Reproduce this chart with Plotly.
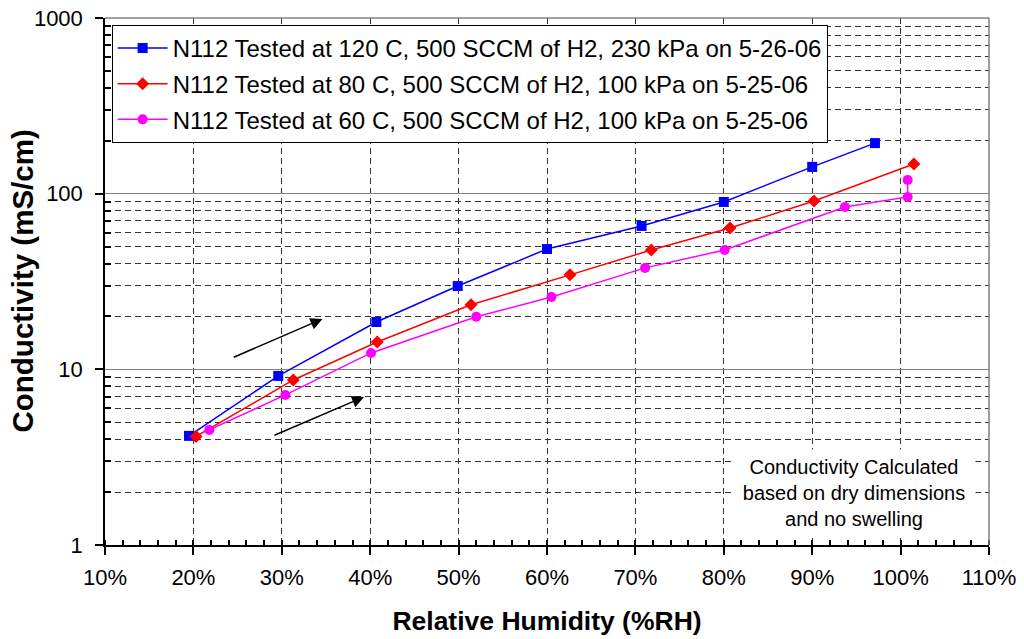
import plotly.graph_objects as go

# ---- data ----
rh_120 = [19.5, 29.6, 40.7, 49.9, 60.0, 70.7, 80.0, 90.0, 97.1]
cond_120 = [4.18, 9.17, 18.6, 29.8, 48.4, 65.5, 89.7, 142, 194]

rh_80 = [20.3, 31.3, 40.8, 51.4, 62.6, 71.8, 80.7, 90.2, 101.5]
cond_80 = [4.15, 8.7, 14.3, 23.3, 34.5, 47.8, 63.8, 90.8, 147.6]

rh_60 = [21.8, 30.4, 40.1, 52.0, 60.5, 71.1, 80.1, 93.7, 100.8, 100.8]
cond_60 = [4.52, 7.15, 12.4, 19.9, 25.8, 37.8, 47.8, 84.0, 95.8, 119.7]

names = [
    "N112 Tested at 120 C, 500 SCCM of H2, 230 kPa on 5-26-06",
    "N112 Tested at 80 C, 500 SCCM of H2, 100 kPa on 5-25-06",
    "N112 Tested at 60 C, 500 SCCM of H2, 100 kPa on 5-25-06",
]
x_ticks = [10, 20, 30, 40, 50, 60, 70, 80, 90, 100, 110]
x_labels = [f"{v}%" for v in x_ticks]
y_ticks = [1, 10, 100, 1000]
y_minor = [d * m for m in (1, 10, 100) for d in range(2, 10)]

FONT = "Liberation Sans, Arial, sans-serif"

fig = go.Figure()
fig.add_trace(go.Scatter(x=rh_120, y=cond_120, name=names[0], mode="lines+markers",
                         line=dict(color="#0000FF", width=1.5), legendgroup="a",
                         marker=dict(symbol="square", size=10, color="#0000FF")))
fig.add_trace(go.Scatter(x=rh_80, y=cond_80, name=names[1], mode="lines+markers",
                         line=dict(color="#FF0000", width=1.5), legendgroup="b",
                         marker=dict(symbol="diamond", size=10, color="#FF0000")))
fig.add_trace(go.Scatter(x=rh_60, y=cond_60, name=names[2], mode="lines+markers",
                         line=dict(color="#FF00FF", width=1.5), legendgroup="c",
                         marker=dict(symbol="circle", size=10, color="#FF00FF")))

fig.update_layout(
    width=1024, height=639,
    margin=dict(l=105, r=35, t=18, b=94),
    plot_bgcolor="white", paper_bgcolor="white",
    font=dict(family=FONT, size=22, color="black"),
    showlegend=True,
    legend=dict(x=0.0075, y=0.987, xanchor="left", yanchor="top",
                bgcolor="white", bordercolor="black", borderwidth=1,
                font=dict(size=24), traceorder="grouped", tracegroupgap=1.5,
                itemwidth=50),
    xaxis=dict(range=[10, 110], tickvals=x_ticks, ticktext=x_labels,
               automargin=False, ticklabelstandoff=4,
               showline=True, linecolor="black", linewidth=1.5,
               ticks="outside", ticklen=8, tickcolor="black", tickwidth=1.5,
               showgrid=True, gridcolor="#333333", griddash="6px,4px", gridwidth=1,
               zeroline=False,
               minor=dict(dtick=2, tick0=10, ticks="inside", ticklen=5,
                          tickcolor="black", showgrid=False),
               title=dict(text="<b>Relative Humidity (%RH)</b>", font=dict(size=26.5),
                          standoff=22)),
    yaxis=dict(type="log", range=[0, 3], tickvals=y_ticks,
               ticktext=[str(v) for v in y_ticks], automargin=False,
               ticklabelstandoff=8,
               showline=True, linecolor="black", linewidth=1.5,
               ticks="outside", ticklen=8, tickcolor="black", tickwidth=1.5,
               showgrid=True, gridcolor="#808080", gridwidth=1.2,
               minor=dict(tickvals=y_minor, ticks="inside", ticklen=6,
                          tickcolor="black", showgrid=True,
                          gridcolor="#333333", griddash="6px,4px")),
    xaxis2=dict(overlaying="x", matches="x", anchor="y", range=[10, 110],
                automargin=False,
                tickvals=x_ticks, ticks="inside", ticklen=6, tickwidth=1.5,
                tickcolor="black", showticklabels=False, showgrid=False,
                showline=False, zeroline=False),
    yaxis2=dict(overlaying="y", matches="y", anchor="x", type="log", range=[0, 3],
                automargin=False,
                tickvals=y_ticks, ticks="inside", ticklen=6, tickwidth=1.5,
                tickcolor="black", showticklabels=False, showgrid=False,
                showline=False, zeroline=False),
)

# y axis title
fig.add_annotation(x=0, y=0.5, xref="paper", yref="paper", xshift=-83,
                   xanchor="center", yanchor="middle", showarrow=False,
                   textangle=-90, text="<b>Conductivity (mS/cm)</b>",
                   font=dict(size=29.5))

# top and right frame (gray)
fig.add_shape(type="line", xref="paper", yref="paper", x0=0, x1=1, y0=1, y1=1,
              line=dict(color="#808080", width=1.5))
fig.add_shape(type="line", xref="paper", yref="paper", x0=1, x1=1, y0=0, y1=1,
              line=dict(color="#808080", width=1.5))

# arrows
arrows = [((24.4, 1.065), (34.6, 1.287)), ((29.0, 0.621), (39.3, 0.843))]
for (tx, ty), (hx, hy) in arrows:
    fig.add_annotation(x=hx, y=hy, ax=tx, ay=ty, xref="x", yref="y",
                       axref="x", ayref="y", showarrow=True, arrowhead=2,
                       arrowsize=1.6, arrowwidth=1.5, arrowcolor="black", text="")

fig.add_annotation(x=94.7, y=0.0986, xref="x", yref="paper", yanchor="middle",
                   xanchor="center", showarrow=False,
                   text="Conductivity Calculated<br>based on dry dimensions<br>and no swelling",
                   font=dict(size=20), align="center", bgcolor="white",
                   width=240, height=84)

fig.write_html("out.html")
